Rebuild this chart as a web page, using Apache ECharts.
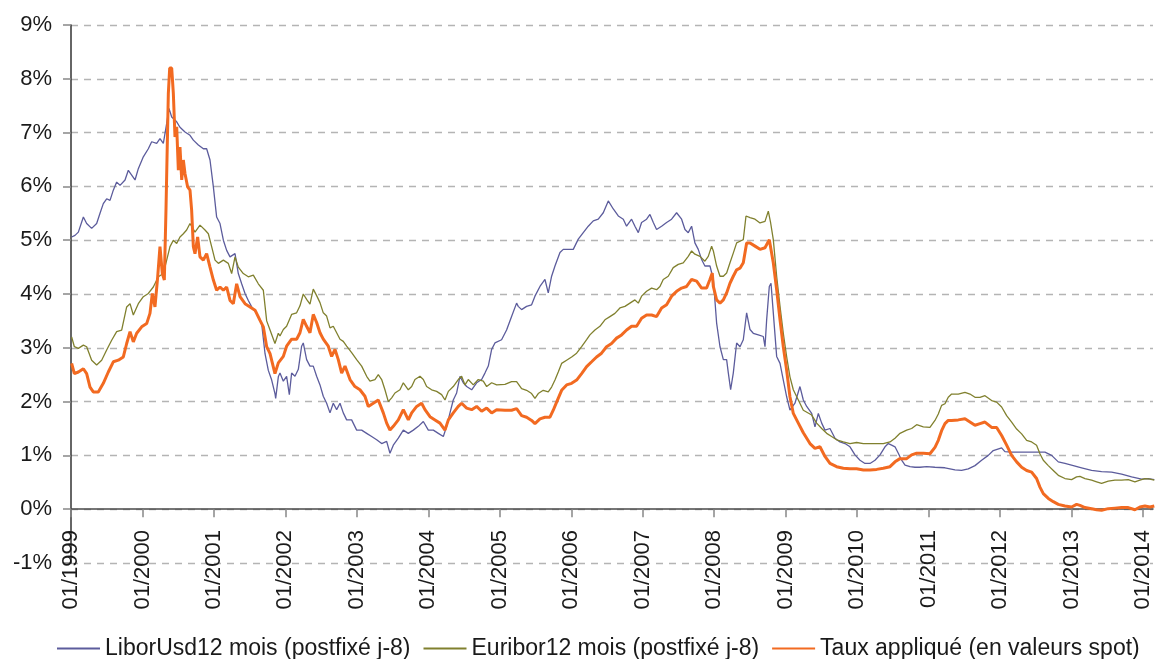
<!DOCTYPE html>
<html>
<head>
<meta charset="utf-8">
<script src="https://cdn.jsdelivr.net/npm/echarts@6/dist/echarts.min.js"></script>
<style>
html,body{margin:0;padding:0;background:#fff;}
#c{width:1156px;height:659px;}
</style>
</head>
<body>
<div id="c"></div>
<script>
// x = decimal year, y = rate in %
var yearTicks = [1999,2000,2001,2002,2003,2004,2005,2006,2007,2008,2009,2010,2011,2012,2013,2014];
var seriesNames = ['LiborUsd12 mois (postfixé j-8)', 'Euribor12 mois (postfixé j-8)', 'Taux appliqué (en valeurs spot)'];

var liborData = [
[1999.009,5.06],[1999.056,5.09],[1999.103,5.15],[1999.173,5.43],[1999.219,5.31],[1999.289,5.22],[1999.359,5.31],[1999.406,5.50],[1999.452,5.68],[1999.499,5.77],[1999.546,5.74],[1999.592,5.93],[1999.639,6.08],[1999.686,6.02],[1999.756,6.12],[1999.802,6.30],[1999.849,6.21],[1999.896,6.12],[1999.942,6.33],
[2000.012,6.55],[2000.082,6.70],[2000.129,6.83],[2000.199,6.80],[2000.245,6.89],[2000.292,6.80],[2000.339,7.17],[2000.371,7.45],[2000.409,7.29],[2000.479,7.20],[2000.525,7.10],[2000.595,7.01],[2000.665,6.95],[2000.712,6.86],[2000.782,6.77],[2000.852,6.70],[2000.898,6.70],[2000.945,6.49],[2000.992,5.99],
[2001.038,5.43],[2001.085,5.31],[2001.132,5.00],[2001.178,4.81],[2001.225,4.69],[2001.295,4.75],[2001.341,4.38],[2001.388,4.19],[2001.435,4.01],[2001.481,3.88],[2001.528,3.76],[2001.598,3.64],[2001.668,3.45],[2001.715,2.89],[2001.761,2.58],[2001.808,2.40],[2001.854,2.15],[2001.864,2.06],[2001.901,2.46],[2001.924,2.53],[2001.971,2.38],
[2002.017,2.47],[2002.055,2.13],[2002.087,2.53],[2002.134,2.47],[2002.181,2.60],[2002.227,3.03],[2002.250,3.09],[2002.297,2.78],[2002.344,2.66],[2002.390,2.66],[2002.437,2.47],[2002.484,2.31],[2002.530,2.10],[2002.577,1.97],[2002.624,1.79],[2002.670,1.97],[2002.717,1.85],[2002.764,1.97],[2002.810,1.79],[2002.857,1.66],[2002.927,1.66],[2002.997,1.47],
[2003.067,1.47],[2003.137,1.41],[2003.207,1.35],[2003.277,1.29],[2003.347,1.22],[2003.417,1.26],[2003.463,1.04],[2003.510,1.19],[2003.580,1.32],[2003.650,1.47],[2003.720,1.41],[2003.790,1.47],[2003.860,1.54],[2003.930,1.63],[2004.000,1.47],
[2004.070,1.47],[2004.140,1.41],[2004.210,1.35],[2004.256,1.54],[2004.303,1.79],[2004.349,2.03],[2004.396,2.16],[2004.443,2.47],[2004.489,2.35],[2004.536,2.28],[2004.606,2.22],[2004.676,2.35],[2004.746,2.41],[2004.792,2.53],[2004.839,2.66],[2004.886,2.97],[2004.932,3.09],
[2005.025,3.15],[2005.095,3.33],[2005.165,3.58],[2005.235,3.83],[2005.258,3.77],[2005.305,3.71],[2005.375,3.77],[2005.445,3.80],[2005.492,3.96],[2005.562,4.14],[2005.632,4.27],[2005.678,4.02],[2005.725,4.33],[2005.772,4.52],[2005.842,4.77],[2005.888,4.83],[2005.958,4.83],
[2006.028,4.83],[2006.098,5.02],[2006.168,5.14],[2006.238,5.26],[2006.308,5.36],[2006.378,5.39],[2006.448,5.51],[2006.518,5.73],[2006.588,5.58],[2006.658,5.45],[2006.728,5.39],[2006.774,5.26],[2006.844,5.39],[2006.891,5.26],[2006.938,5.14],[2006.984,5.33],
[2007.054,5.39],[2007.101,5.48],[2007.148,5.33],[2007.194,5.20],[2007.264,5.26],[2007.334,5.33],[2007.404,5.39],[2007.474,5.51],[2007.544,5.39],[2007.591,5.20],[2007.637,5.14],[2007.684,5.26],[2007.730,4.95],[2007.777,4.83],[2007.824,4.64],[2007.870,4.52],[2007.941,4.52],[2007.988,4.27],
[2008.034,3.46],[2008.081,3.02],[2008.128,2.78],[2008.174,2.78],[2008.198,2.53],[2008.230,2.22],[2008.267,2.53],[2008.314,3.09],[2008.361,3.02],[2008.407,3.15],[2008.454,3.65],[2008.501,3.34],[2008.547,3.27],[2008.617,3.24],[2008.687,3.21],[2008.711,3.02],[2008.734,3.52],[2008.771,4.14],[2008.795,4.20],[2008.827,3.65],[2008.874,2.84],[2008.921,2.71],[2008.967,2.40],
[2009.014,2.09],[2009.060,1.84],[2009.130,1.97],[2009.200,2.28],[2009.247,2.03],[2009.294,1.91],[2009.364,1.78],[2009.410,1.53],[2009.457,1.78],[2009.504,1.60],[2009.550,1.47],[2009.620,1.50],[2009.690,1.32],[2009.760,1.25],[2009.830,1.22],[2009.900,1.16],[2009.970,1.01],
[2010.040,0.91],[2010.110,0.85],[2010.180,0.85],[2010.250,0.91],[2010.320,1.01],[2010.390,1.16],[2010.436,1.22],[2010.483,1.19],[2010.530,1.16],[2010.576,1.04],[2010.623,0.91],[2010.670,0.82],[2010.740,0.79],[2010.810,0.78],[2010.879,0.78],[2010.973,0.79],
[2011.089,0.78],[2011.229,0.77],[2011.369,0.73],[2011.462,0.72],[2011.555,0.75],[2011.649,0.81],[2011.742,0.91],[2011.835,1.00],[2011.905,1.09],[2012.022,1.14],[2012.068,1.07],[2012.162,1.06],[2012.278,1.06],[2012.395,1.06],[2012.511,1.06],[2012.628,1.06],[2012.721,1.00],[2012.815,0.88],[2012.908,0.85],
[2013.025,0.81],[2013.141,0.77],[2013.281,0.72],[2013.421,0.70],[2013.561,0.69],[2013.701,0.65],[2013.841,0.60],[2013.981,0.56],[2014.074,0.57],[2014.158,0.55]
];

var euriborData = [
[1999.009,3.20],[1999.047,3.02],[1999.103,2.99],[1999.173,3.05],[1999.219,3.02],[1999.289,2.77],[1999.359,2.68],[1999.429,2.77],[1999.499,2.96],[1999.569,3.14],[1999.639,3.30],[1999.709,3.33],[1999.779,3.76],[1999.826,3.82],[1999.872,3.61],[1999.942,3.82],
[2000.012,3.95],[2000.082,4.01],[2000.152,4.13],[2000.222,4.32],[2000.292,4.38],[2000.339,4.63],[2000.385,4.88],[2000.432,5.00],[2000.479,4.94],[2000.525,5.06],[2000.572,5.12],[2000.618,5.19],[2000.665,5.31],[2000.735,5.15],[2000.805,5.28],[2000.875,5.19],[2000.922,5.12],[2000.968,4.88],
[2001.015,4.63],[2001.062,4.57],[2001.132,4.63],[2001.201,4.57],[2001.248,4.38],[2001.295,4.69],[2001.341,4.50],[2001.411,4.38],[2001.481,4.32],[2001.551,4.35],[2001.621,4.19],[2001.691,4.07],[2001.738,3.50],[2001.785,3.33],[2001.854,3.08],[2001.901,3.27],[2001.924,3.22],[2001.971,3.34],
[2002.017,3.40],[2002.087,3.62],[2002.157,3.65],[2002.204,3.78],[2002.250,4.00],[2002.297,3.90],[2002.344,3.81],[2002.390,4.09],[2002.437,3.97],[2002.484,3.84],[2002.530,3.65],[2002.577,3.59],[2002.624,3.37],[2002.670,3.40],[2002.717,3.28],[2002.764,3.16],[2002.810,3.12],[2002.857,3.03],[2002.927,2.91],[2002.997,2.78],
[2003.067,2.66],[2003.137,2.47],[2003.183,2.38],[2003.253,2.41],[2003.300,2.50],[2003.347,2.41],[2003.393,2.22],[2003.440,2.00],[2003.487,2.07],[2003.533,2.16],[2003.603,2.22],[2003.650,2.35],[2003.720,2.22],[2003.767,2.28],[2003.813,2.41],[2003.883,2.47],[2003.930,2.41],[2003.976,2.28],
[2004.046,2.22],[2004.116,2.19],[2004.186,2.13],[2004.233,2.03],[2004.280,2.19],[2004.349,2.28],[2004.419,2.41],[2004.466,2.47],[2004.513,2.31],[2004.559,2.41],[2004.629,2.31],[2004.699,2.41],[2004.769,2.38],[2004.816,2.28],[2004.886,2.35],[2004.956,2.31],
[2005.072,2.32],[2005.165,2.37],[2005.235,2.37],[2005.305,2.24],[2005.375,2.21],[2005.445,2.15],[2005.492,2.06],[2005.538,2.15],[2005.608,2.21],[2005.678,2.18],[2005.725,2.27],[2005.772,2.40],[2005.818,2.55],[2005.865,2.71],[2005.935,2.77],
[2006.005,2.83],[2006.075,2.90],[2006.145,3.02],[2006.215,3.15],[2006.261,3.24],[2006.331,3.33],[2006.401,3.40],[2006.471,3.52],[2006.541,3.58],[2006.611,3.64],[2006.681,3.74],[2006.751,3.77],[2006.821,3.83],[2006.891,3.89],[2006.938,3.83],[2006.984,3.96],
[2007.054,4.05],[2007.124,4.11],[2007.194,4.08],[2007.241,4.14],[2007.287,4.27],[2007.357,4.33],[2007.427,4.49],[2007.497,4.55],[2007.567,4.58],[2007.637,4.70],[2007.684,4.80],[2007.730,4.74],[2007.801,4.70],[2007.870,4.61],[2007.917,4.70],[2007.964,4.89],[2007.988,4.80],
[2008.034,4.52],[2008.081,4.33],[2008.128,4.33],[2008.174,4.39],[2008.221,4.58],[2008.267,4.76],[2008.314,4.95],[2008.361,4.98],[2008.407,5.01],[2008.445,5.45],[2008.501,5.42],[2008.571,5.39],[2008.641,5.32],[2008.711,5.35],[2008.757,5.54],[2008.790,5.32],[2008.827,5.01],[2008.874,4.33],[2008.921,3.77],[2008.967,3.27],
[2009.014,2.83],[2009.060,2.46],[2009.107,2.22],[2009.177,2.03],[2009.247,1.84],[2009.364,1.75],[2009.434,1.60],[2009.504,1.50],[2009.574,1.41],[2009.643,1.35],[2009.713,1.29],[2009.807,1.25],[2009.900,1.22],[2009.993,1.24],
[2010.087,1.22],[2010.180,1.22],[2010.273,1.22],[2010.366,1.22],[2010.460,1.25],[2010.530,1.32],[2010.600,1.41],[2010.693,1.47],[2010.763,1.50],[2010.833,1.57],[2010.926,1.53],[2011.019,1.52],
[2011.089,1.65],[2011.136,1.77],[2011.182,1.93],[2011.229,1.96],[2011.275,2.08],[2011.322,2.14],[2011.415,2.14],[2011.509,2.17],[2011.579,2.14],[2011.649,2.08],[2011.719,2.08],[2011.789,2.11],[2011.882,2.02],[2011.952,1.99],
[2012.022,1.90],[2012.092,1.74],[2012.162,1.62],[2012.232,1.49],[2012.302,1.40],[2012.372,1.28],[2012.442,1.25],[2012.511,1.19],[2012.558,1.03],[2012.605,0.91],[2012.675,0.81],[2012.745,0.72],[2012.815,0.63],[2012.908,0.57],
[2013.001,0.55],[2013.071,0.60],[2013.118,0.61],[2013.188,0.57],[2013.281,0.54],[2013.351,0.51],[2013.421,0.48],[2013.514,0.52],[2013.607,0.54],[2013.701,0.54],[2013.794,0.55],[2013.887,0.51],[2013.957,0.54],[2014.027,0.57],[2014.097,0.56],[2014.158,0.54]
];

var tauxData = [
[1999.009,2.71],[1999.047,2.52],[1999.103,2.55],[1999.173,2.61],[1999.219,2.52],[1999.266,2.27],[1999.312,2.18],[1999.382,2.18],[1999.452,2.34],[1999.522,2.55],[1999.592,2.74],[1999.662,2.77],[1999.732,2.83],[1999.779,3.08],[1999.826,3.30],[1999.872,3.11],[1999.919,3.27],[1999.989,3.39],
[2000.059,3.45],[2000.105,3.64],[2000.138,4.01],[2000.175,3.76],[2000.213,4.32],[2000.245,4.88],[2000.278,4.38],[2000.306,4.26],[2000.329,5.56],[2000.343,6.49],[2000.362,7.73],[2000.381,8.20],[2000.409,8.20],[2000.432,7.73],[2000.455,6.92],[2000.479,7.11],[2000.502,6.30],[2000.525,6.73],[2000.549,6.12],[2000.572,6.49],[2000.595,6.24],[2000.632,5.99],[2000.665,5.93],[2000.688,5.56],[2000.712,4.88],[2000.735,4.75],[2000.772,5.06],[2000.805,4.69],[2000.852,4.63],[2000.898,4.75],[2000.945,4.50],[2000.992,4.26],
[2001.038,4.07],[2001.085,4.13],[2001.132,4.07],[2001.178,4.13],[2001.225,3.88],[2001.271,3.82],[2001.318,4.19],[2001.365,3.95],[2001.435,3.82],[2001.505,3.76],[2001.575,3.70],[2001.645,3.51],[2001.691,3.39],[2001.738,3.02],[2001.785,2.89],[2001.854,2.52],[2001.901,2.72],[2001.971,2.84],
[2002.017,3.03],[2002.087,3.16],[2002.157,3.16],[2002.204,3.28],[2002.250,3.53],[2002.297,3.40],[2002.344,3.28],[2002.390,3.62],[2002.437,3.47],[2002.484,3.28],[2002.530,3.16],[2002.600,3.03],[2002.647,2.84],[2002.694,2.97],[2002.740,2.78],[2002.787,2.53],[2002.834,2.66],[2002.904,2.41],[2002.973,2.28],
[2003.043,2.22],[2003.113,2.10],[2003.160,1.91],[2003.230,1.97],[2003.300,2.03],[2003.370,1.79],[2003.417,1.60],[2003.463,1.47],[2003.510,1.54],[2003.580,1.66],[2003.650,1.85],[2003.720,1.66],[2003.767,1.79],[2003.837,1.91],[2003.906,1.97],[2003.953,1.85],
[2004.023,1.72],[2004.093,1.66],[2004.163,1.60],[2004.233,1.47],[2004.280,1.66],[2004.349,1.79],[2004.419,1.91],[2004.466,1.97],[2004.536,1.88],[2004.606,1.85],[2004.676,1.91],[2004.746,1.82],[2004.816,1.88],[2004.886,1.79],[2004.956,1.85],
[2005.072,1.84],[2005.165,1.84],[2005.235,1.87],[2005.305,1.74],[2005.375,1.71],[2005.445,1.65],[2005.492,1.59],[2005.562,1.68],[2005.632,1.71],[2005.702,1.71],[2005.748,1.84],[2005.795,1.99],[2005.865,2.21],[2005.935,2.31],
[2006.005,2.34],[2006.075,2.40],[2006.145,2.52],[2006.215,2.65],[2006.285,2.74],[2006.354,2.83],[2006.424,2.90],[2006.494,3.02],[2006.564,3.08],[2006.634,3.18],[2006.704,3.24],[2006.774,3.33],[2006.844,3.40],[2006.914,3.40],[2006.984,3.55],
[2007.054,3.61],[2007.124,3.61],[2007.194,3.58],[2007.264,3.74],[2007.334,3.80],[2007.404,3.96],[2007.474,4.05],[2007.544,4.11],[2007.614,4.14],[2007.684,4.27],[2007.754,4.24],[2007.824,4.11],[2007.894,4.11],[2007.940,4.27],[2007.973,4.39],[2007.988,4.14],
[2008.034,3.89],[2008.081,3.83],[2008.128,3.89],[2008.174,4.02],[2008.221,4.20],[2008.267,4.33],[2008.314,4.45],[2008.361,4.48],[2008.407,4.58],[2008.454,4.95],[2008.501,4.95],[2008.571,4.89],[2008.641,4.83],[2008.711,4.86],[2008.771,5.01],[2008.827,4.58],[2008.874,4.08],[2008.921,3.52],[2008.967,3.02],
[2009.014,2.58],[2009.060,2.09],[2009.107,1.78],[2009.177,1.60],[2009.247,1.42],[2009.340,1.22],[2009.410,1.13],[2009.480,1.16],[2009.550,0.98],[2009.620,0.85],[2009.713,0.79],[2009.807,0.76],[2009.900,0.75],[2009.993,0.75],
[2010.087,0.73],[2010.180,0.73],[2010.273,0.74],[2010.366,0.76],[2010.460,0.79],[2010.530,0.88],[2010.600,0.94],[2010.693,0.94],[2010.763,1.01],[2010.833,1.04],[2010.926,1.04],[2011.019,1.03],
[2011.089,1.15],[2011.136,1.28],[2011.182,1.46],[2011.229,1.59],[2011.275,1.65],[2011.322,1.65],[2011.415,1.66],[2011.509,1.68],[2011.579,1.62],[2011.649,1.56],[2011.719,1.59],[2011.789,1.62],[2011.882,1.52],[2011.952,1.52],
[2012.022,1.37],[2012.092,1.19],[2012.162,1.00],[2012.232,0.88],[2012.302,0.78],[2012.372,0.72],[2012.442,0.69],[2012.511,0.57],[2012.558,0.41],[2012.605,0.29],[2012.675,0.20],[2012.745,0.14],[2012.815,0.09],[2012.908,0.06],
[2013.001,0.04],[2013.071,0.09],[2013.118,0.07],[2013.188,0.03],[2013.281,0.01],[2013.351,-0.01],[2013.421,-0.02],[2013.514,0.01],[2013.607,0.02],[2013.701,0.03],[2013.794,0.03],[2013.887,-0.01],[2013.957,0.04],[2014.027,0.06],[2014.097,0.04],[2014.158,0.06]
];

var FONT = '"Liberation Sans", Arial, Helvetica, sans-serif';
var chart = echarts.init(document.getElementById('c'), null, {renderer: 'canvas'});
chart.setOption({
  animation: false,
  backgroundColor: '#ffffff',
  textStyle: {fontFamily: FONT},
  grid: {left: 71, right: 3, top: 25, bottom: 96, containLabel: false},
  legend: {
    left: 51, top: 632,
    itemWidth: 43, itemHeight: 14, itemGap: 12,
    itemStyle: {opacity: 0},
    textStyle: {fontFamily: FONT, fontSize: 23, color: '#1a1a1a'},
    data: seriesNames
  },
  xAxis: {
    type: 'value', min: 1999, max: 2014.14,
    axisLine: {show: true, onZero: true, lineStyle: {color: '#4a4a4a', width: 1.5}},
    axisTick: {show: true, length: 8, customValues: yearTicks, lineStyle: {color: '#888888', width: 1.5}},
    axisLabel: {
      customValues: yearTicks, rotate: 90, margin: -33,
      align: 'right', verticalAlign: 'middle',
      fontFamily: FONT, fontSize: 22, color: '#1a1a1a',
      formatter: function (v) { return '01/' + v; }
    },
    splitLine: {show: false}
  },
  yAxis: {
    type: 'value', min: -1, max: 9, interval: 1,
    axisLine: {show: true, lineStyle: {color: '#333333', width: 1.5}},
    axisTick: {show: true, length: 8, lineStyle: {color: '#888888', width: 1.5}},
    axisLabel: {margin: 19, fontFamily: FONT, fontSize: 22, color: '#1a1a1a',
      formatter: function (v) { return v + '%'; }},
    splitLine: {show: true, lineStyle: {color: '#b4b4b4', width: 1.3, type: [7, 6]}}
  },
  series: [
    {name: seriesNames[0], type: 'line', data: liborData, symbol: 'none', showSymbol: false,
     lineStyle: {color: '#5c5c9c', width: 1.3}, itemStyle: {color: '#5c5c9c'}},
    {name: seriesNames[1], type: 'line', data: euriborData, symbol: 'none', showSymbol: false,
     lineStyle: {color: '#80802e', width: 1.3}, itemStyle: {color: '#80802e'}},
    {name: seriesNames[2], type: 'line', data: tauxData, symbol: 'none', showSymbol: false,
     lineStyle: {color: '#f26a21', width: 3}, itemStyle: {color: '#f26a21'}}
  ]
});
</script>
</body>
</html>
